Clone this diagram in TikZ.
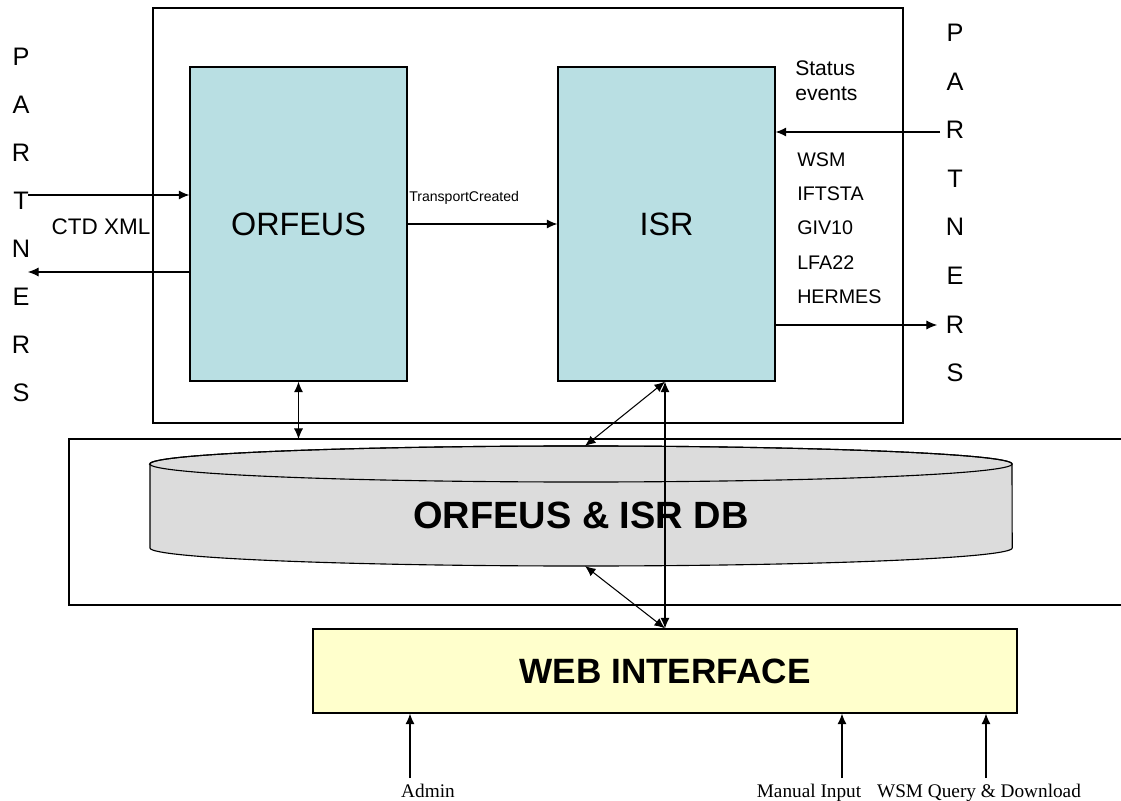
\documentclass[tikz,border=0pt]{standalone}
\usepackage{fontspec}
\setmainfont{Liberation Sans}
\newfontfamily\inputfont{Liberation Serif}
\usetikzlibrary{arrows.meta}
\definecolor{appblue}{HTML}{B9DFE3}
\definecolor{dbgray}{HTML}{DCDCDC}
\definecolor{webyellow}{HTML}{FFFFCC}
\tikzstyle{frame} = [draw=black, line width=0.9pt]
\tikzstyle{app} = [rectangle, draw=black, line width=0.9pt, fill=appblue, minimum width=5.425cm, minimum height=7.85cm, text centered, font=\fontsize{23}{26}\selectfont]
\tikzstyle{webbox} = [rectangle, draw=black, line width=0.9pt, fill=webyellow, minimum width=17.6cm, minimum height=2.1cm, text centered, font=\bfseries\fontsize{25}{28}\selectfont]
\tikzstyle{letter} = [inner sep=0pt, font=\fontsize{18}{20}\selectfont]
\tikzstyle{msglist} = [inner sep=0pt, anchor=west, align=left]
\tikzstyle{inputlabel} = [inner sep=0pt, anchor=base, font=\inputfont\fontsize{13.7}{16}\selectfont]
\tikzstyle{arrow} = [line width=0.75pt, -{Latex[length=7.5pt,width=6.5pt]}]
\tikzstyle{twoway} = [line width=0.75pt, {Latex[length=7.5pt,width=6.5pt]}-{Latex[length=7.5pt,width=6.5pt]}]

\begin{document}
\begin{tikzpicture}[x=0.025cm, y=-0.025cm]
		\useasboundingbox (0,0) rectangle (1121,801);
		% application frame
		\draw [frame] (153,8) rectangle (903,423);
		\node [app] (orfeus) at (298.5,224) {ORFEUS};
		\node [app] (isr) 	 at (666.5,224) {ISR};

		% partners on both sides
		\foreach \ch [count=\i] in {P,A,R,T,N,E,R,S}
			\node [letter] (pleft\i) at (21,{57+48*(\i-1)}) {\ch};
		\foreach \ch [count=\i] in {P,A,R,T,N,E,R,S}
			\node [letter] (pright\i) at (955,{33+48.57*(\i-1)}) {\ch};

		\coordinate (ctdin)  at (28,195);
		\coordinate (ctdout) at (28,272);
		\coordinate (statin)  at (940,132);
		\coordinate (statout) at (937,325);

		\node [inner sep=0pt, font=\fontsize{16}{18}\selectfont] (ctd) at (101,227) {CTD XML};
		\node [inner sep=0pt, anchor=west, font=\fontsize{10}{12}\selectfont] (created) at (409,198) {TransportCreated};
		\node [msglist, font=\fontsize{15}{17.8}\selectfont] (status) at (795,81) {Status\\events};
		\node [msglist, font=\fontsize{14}{24.4}\selectfont] (codes) at (797,228) {WSM\\IFTSTA\\GIV10\\LFA22\\HERMES};

		\draw [arrow] (ctdin) -- (ctdin -| orfeus.west);
		\draw [arrow] (ctdout -| orfeus.west) -- (ctdout);
		\draw [arrow] (orfeus) -- (isr);
		\draw [arrow] (statin) -- (statin -| isr.east);
		\draw [arrow] (statout -| isr.east) -- (statout);

		% database
		\draw [frame] (1121,439) -| (69,605) -- (1121,605);
		\coordinate (dbframe) at (69,439);
		\draw [line width=0.8pt, fill=dbgray] (150,464) -- (150,548) arc [start angle=180, end angle=360, x radius=10.775cm, y radius=0.45cm] -- (1012,464) arc [start angle=0, end angle=180, x radius=10.775cm, y radius=0.45cm] -- cycle;
		\draw [line width=0.8pt] (581,464) ellipse [x radius=10.775cm, y radius=0.45cm];
		\node [font=\bfseries\fontsize{27}{30}\selectfont] (db) at (581,515) {ORFEUS \& ISR DB};
		\coordinate (dbtop) at (585,446);
		\coordinate (dbbot) at (585,566);

		% web interface
		\node [webbox] (web) at (665,671) {WEB INTERFACE};

		\draw [twoway] (orfeus.south) -- (orfeus.south |- dbframe);
		\draw [twoway] (web.north |- isr.south) -- (dbtop);
		\draw [twoway] (web.north |- isr.south) -- (web.north);
		\draw [twoway] (dbbot) -- (web.north);

		% inputs
		\node [inputlabel] (admin)  at (428,797) {Admin};
		\node [inputlabel] (manual) at (809,797) {Manual Input};
		\node [inputlabel] (query)  at (979,797) {WSM Query \& Download};
		\coordinate (adminin)  at (410,778);
		\coordinate (manualin) at (842,778);
		\coordinate (queryin)  at (986,778);
		\draw [arrow] (adminin) -- (adminin |- web.south);
		\draw [arrow] (manualin) -- (manualin |- web.south);
		\draw [arrow] (queryin) -- (queryin |- web.south);
	\end{tikzpicture}
\end{document}
